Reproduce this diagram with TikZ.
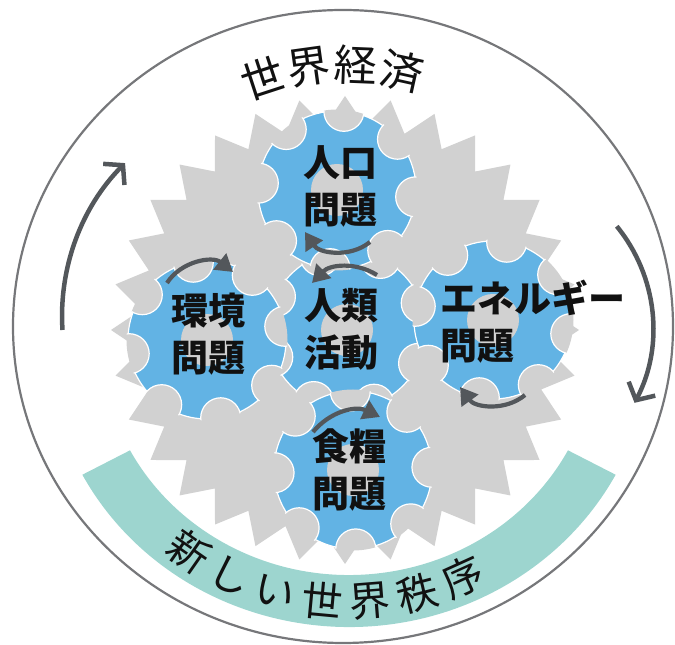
\documentclass[tikz,border=0pt]{standalone}
\usepackage{fontspec}
\newfontfamily\cjk{Noto Sans CJK JP}
\usetikzlibrary{arrows.meta}
\definecolor{ring}{HTML}{76777A}
\definecolor{cogblue}{HTML}{62B3E4}
\definecolor{steel}{HTML}{D1D1D1}
\definecolor{band}{HTML}{9DD5CF}
\definecolor{ink}{HTML}{111111}
\definecolor{arr}{HTML}{53575B}

\begin{document}
\begin{tikzpicture}[
  x=1pt,y=1pt,
  cog/.style={fill=cogblue,draw=white,line width=1.2pt},
  notch/.style={fill=steel,draw=white,line width=1.2pt},
  cogtext/.style={font=\cjk\bfseries\fontsize{37}{47}\selectfont,align=center,inner sep=0pt,text=ink},
  arctext/.style={font=\cjk\fontsize{43}{43}\selectfont,inner sep=0pt,text=ink},
  turn/.style={draw=arr,line width=4.2pt,-{Triangle[length=17pt,width=20pt]}},
  cycle arrow/.style={draw=arr,line width=4.5pt,-{Straight Barb[length=13pt,width=30pt]}}
]
\useasboundingbox (0,0) rectangle (675,645);

% outer ring
\draw[ring,line width=2.2pt] (343,318.5) ellipse [x radius=330,y radius=316.5];

% band along the bottom
\coordinate (bandc) at (349,305);
\fill[band] ([shift={(208:302 and 287)}]bandc)
  arc[start angle=208,end angle=332,x radius=302,y radius=287]
  -- ([shift={(332:248 and 235)}]bandc)
  arc[start angle=332,end angle=208,x radius=248,y radius=235] -- cycle;

% big saw-tooth wheel
\coordinate (hub) at (345,315);
\begin{scope}[shift={(hub)}]
  \fill[steel] (0:234) \foreach \k in {1,...,32}{ -- ({\k*11.25-5.625}:205) -- ({\k*11.25}:234) } -- cycle;
\end{scope}

% blue cogs: name/x/y/notch offset
\foreach \name/\cx/\cy/\off in {hum/347/315/20, pop/337/455/40, env/207/305/10, ene/493/325/35, food/353/175/2}{
  \coordinate (\name) at (\cx,\cy);
  \path[cog] (\name) circle (79);
  \begin{scope}
    \clip (\name) circle (80.5);
    \foreach \k in {0,...,7}
      \path[notch] (\name) ++({\off+\k*45}:79) circle (20);
  \end{scope}
  \fill[steel] (\name) circle (26);
}

\node[cogtext] (popL) at (340,459) {人口\\問題};
\node[cogtext] (envL) at (208,311) {環境\\問題};
\node[cogtext] (humL) at (341,316) {人類\\活動};
\node[cogtext,align=left,anchor=west] (eneL) at (440,323) {エネルギー\\問題};
\node[cogtext] (foodL) at (349,175) {食糧\\問題};

% little turning arrows
\coordinate (popA) at (370,403);  \coordinate (popB) at (305,413);
\coordinate (humA) at (377,370);  \coordinate (humB) at (312,362);
\coordinate (envA) at (167,362);  \coordinate (envB) at (233,373);
\coordinate (eneA) at (525,250);  \coordinate (eneB) at (460,258);
\coordinate (foodA) at (313,213); \coordinate (foodB) at (380,228);
\draw[turn] (popA) to[bend left=48] (popB);
\draw[turn] (humA) to[bend right=39] (humB);
\draw[turn] (envA) to[bend left=48] (envB);
\draw[turn] (eneA) to[bend left=47] (eneB);
\draw[turn] (foodA) to[bend left=38] (foodB);

% big arrows round the ring
\coordinate (riseA) at (62.5,315);
\draw[cycle arrow] (riseA) arc[start angle=183.7,end angle=135.2,radius=217];
\coordinate (fallA) at ([shift={(39.2:161)}]492,317);
\draw[cycle arrow] (fallA) arc[start angle=39.2,end angle=-27.7,radius=161];

% curved titles
\foreach \c [count=\i] in {世,界,経,済}
  \node[arctext,rotate={108.1-(\i-1)*10.2-90}] (econ\i) at ([shift={({108.1-(\i-1)*10.2}:265)}]hub) {\c};
\coordinate (ordc) at (348,320);
\foreach \c [count=\i] in {新,し,い,世,界,秩,序}
  \node[arctext,font=\cjk\fontsize{41}{41}\selectfont,rotate={235+(\i-1)*9.9+90}] (order\i) at ([shift={({235+(\i-1)*9.9}:277)}]ordc) {\c};

\end{tikzpicture}
\end{document}
